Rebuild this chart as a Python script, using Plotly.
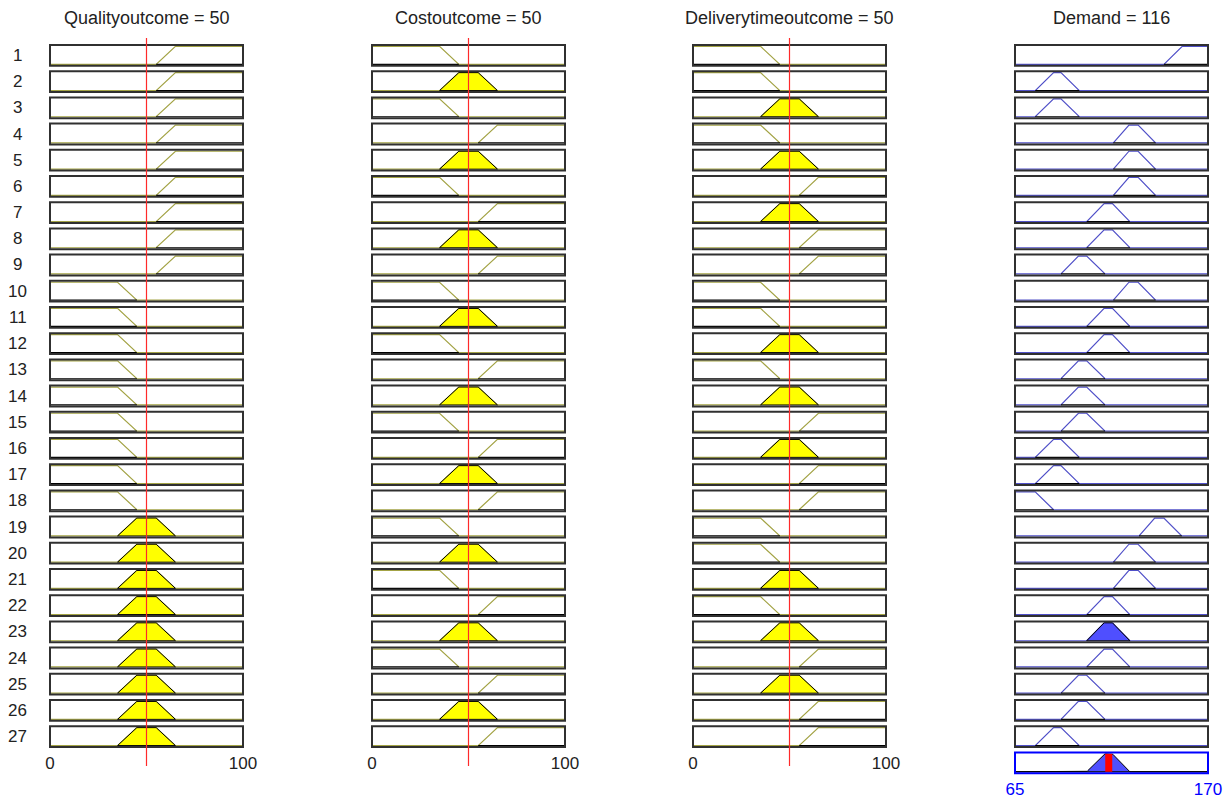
import numpy as np
import plotly.graph_objects as go

# ---------------- data ----------------
input_names = ["Qualityoutcome", "Costoutcome", "Deliverytimeoutcome"]
input_values = [50, 50, 50]
input_range = [0, 100]
input_ticks = [0, 100]

output_name = "Demand"
output_value = 116
output_range = [65, 170]
output_ticks = [65, 170]

# trapezoid membership functions (a, b, c, d)
input_mf_low = [0, 0, 35, 45]
input_mf_medium = [35, 45, 55, 65]
input_mf_high = [55, 65, 100, 100]

output_mfs = [
    [55, 65, 76, 86],
    [76, 86, 90, 100],
    [90, 99.5, 104, 114],
    [104, 113.5, 118, 127.5],
    [118.5, 127, 132, 141.5],
    [132.5, 141, 146, 155.7],
    [146, 156, 170, 180],
]

rule_quality = ["H", "H", "H", "H", "H", "H", "H", "H", "H",
                "L", "L", "L", "L", "L", "L", "L", "L", "L",
                "M", "M", "M", "M", "M", "M", "M", "M", "M"]
rule_cost = ["L", "M", "L", "H", "M", "L", "H", "M", "H",
             "L", "M", "L", "H", "M", "L", "H", "M", "H",
             "L", "M", "L", "H", "M", "L", "H", "M", "H"]
rule_delivery = ["L", "L", "M", "L", "M", "H", "M", "H", "H",
                 "L", "L", "M", "L", "M", "H", "M", "H", "H",
                 "L", "L", "M", "L", "M", "H", "M", "H", "H"]
rule_demand = [7, 2, 2, 5, 5, 5, 4, 4, 3,
               5, 4, 4, 3, 3, 3, 2, 2, 1,
               6, 5, 5, 4, 4, 4, 3, 3, 2]

# ---------------- styling / geometry ----------------
W, H = 1229, 800
FONT = "Liberation Sans, Arial, Helvetica, sans-serif"
col_px = [(50, 243), (372, 565), (693, 886), (1015, 1208)]
row_top0, row_step, box_h = 45.0, 26.2, 20.8
n_rules = len(rule_demand)
YPAD = 0.08  # membership axis padding so the mf lines sit just inside the frame

IN_LINE = "#a3a345"
OUT_LINE = "#5050c8"
YELLOW = "#ffff00"
BLUE_FILL = "#4f4fff"
FRAME = "#303030"

mf_lookup = {"L": input_mf_low, "M": input_mf_medium, "H": input_mf_high}


def trap(x, p):
    a, b, c, d = p
    x = np.asarray(x, dtype=float)
    left = (x - a) / (b - a) if b > a else (x >= a).astype(float)
    right = (d - x) / (d - c) if d > c else (x <= d).astype(float)
    return np.clip(np.minimum(np.minimum(left, right), 1.0), 0.0, 1.0)


def row_domain(r):
    top = row_top0 + r * row_step
    bot = top + box_h
    return [1 - bot / H, 1 - top / H]


def xname(c):
    return "x" if c == 0 else f"x{c + 1}"


def yname(r):
    return "y" if r == 0 else f"y{r + 1}"


fig = go.Figure()


def add_mf(c, r, p, degree, line_color, fill_color, xr):
    a, b, cc, d = p
    # full membership function outline across the whole universe
    fig.add_trace(go.Scatter(
        x=[min(xr[0], a), a, b, cc, d, max(xr[1], d)], y=[0, 0, 1, 1, 0, 0], mode="lines",
        line=dict(color=line_color, width=1.2),
        xaxis=xname(c), yaxis=yname(r), hoverinfo="skip", showlegend=False))
    if degree > 0:
        px = [a, a + (b - a) * degree, d - (d - cc) * degree, d, a]
        py = [0, degree, degree, 0, 0]
        fig.add_trace(go.Scatter(
            x=px, y=py, mode="lines", fill="toself",
            fillcolor=fill_color, line=dict(color="#000000", width=1),
            xaxis=xname(c), yaxis=yname(r), hoverinfo="skip", showlegend=False))
    else:
        fig.add_trace(go.Scatter(
            x=[a, d], y=[0, 0], mode="lines",
            line=dict(color="#000000", width=1.2),
            xaxis=xname(c), yaxis=yname(r), hoverinfo="skip", showlegend=False))


rule_inputs = [rule_quality, rule_cost, rule_delivery]
degrees = []
for r in range(n_rules):
    mus = [float(trap([input_values[i]], mf_lookup[rule_inputs[i][r]])[0]) for i in range(3)]
    degrees.append(min(mus))


def frame(c, r, color):
    return dict(type="rect", xref=f"{xname(c)} domain", yref=f"{yname(r)} domain",
                x0=0, x1=1, y0=0, y1=1, line=dict(color=color, width=2), layer="above")


shapes = []
# input columns
for i in range(3):
    for r in range(n_rules):
        p = mf_lookup[rule_inputs[i][r]]
        mu = float(trap([input_values[i]], p)[0])
        add_mf(i, r, p, mu, IN_LINE, YELLOW, input_range)
        shapes.append(frame(i, r, FRAME))
    shapes.append(dict(type="line", xref=xname(i), yref="paper",
                       x0=input_values[i], x1=input_values[i],
                       y0=1 - 766 / H, y1=1 - 38 / H,
                       line=dict(color="#ff2a2a", width=1.2), layer="above"))

# output column
for r in range(n_rules):
    p = output_mfs[rule_demand[r] - 1]
    add_mf(3, r, p, degrees[r], OUT_LINE, BLUE_FILL, output_range)
    shapes.append(frame(3, r, FRAME))

# aggregated output
agg_row = n_rules
bp = sorted(set([v for r in range(n_rules) if degrees[r] > 0
                 for v in output_mfs[rule_demand[r] - 1]] + output_range))
ax = []
for k in range(len(bp) - 1):
    ax.extend(np.linspace(bp[k], bp[k + 1], 40).tolist())
ax = np.array(ax)
agg = np.zeros_like(ax)
for r in range(n_rules):
    if degrees[r] > 0:
        agg = np.maximum(agg, np.minimum(trap(ax, output_mfs[rule_demand[r] - 1]), degrees[r]))
fig.add_trace(go.Scatter(
    x=[output_range[0], output_range[1]], y=[0, 0], mode="lines",
    line=dict(color="#555555", width=1.2),
    xaxis=xname(3), yaxis=yname(agg_row), hoverinfo="skip", showlegend=False))
fig.add_trace(go.Scatter(
    x=ax.tolist() + [ax[-1], ax[0]], y=agg.tolist() + [0, 0], mode="lines", fill="toself",
    fillcolor=BLUE_FILL, line=dict(color="#000000", width=1),
    xaxis=xname(3), yaxis=yname(agg_row), hoverinfo="skip", showlegend=False))
fig.add_trace(go.Scatter(
    x=[output_value, output_value], y=[0, 1], mode="lines",
    line=dict(color="#ff0000", width=7),
    xaxis=xname(3), yaxis=yname(agg_row), hoverinfo="skip", showlegend=False))
shapes.append(frame(3, agg_row, "#0000ff"))

# ---------------- axes ----------------
layout = {}
for c in range(4):
    x0, x1 = col_px[c]
    last_row = n_rules - 1 if c < 3 else agg_row
    bottom_px = row_top0 + last_row * row_step + box_h
    key = "xaxis" if c == 0 else f"xaxis{c + 1}"
    layout[key] = dict(
        domain=[x0 / W, x1 / W],
        range=output_range if c == 3 else input_range,
        tickvals=output_ticks if c == 3 else input_ticks,
        ticktext=[str(t) for t in (output_ticks if c == 3 else input_ticks)],
        tickfont=dict(family=FONT, size=17, color="#0000ff" if c == 3 else "#222222"),
        anchor="free", position=1 - bottom_px / H, side="bottom",
        showgrid=False, zeroline=False, showline=False, ticks="",
        ticklabelstandoff=4, automargin=False, fixedrange=True)
for r in range(n_rules + 1):
    key = "yaxis" if r == 0 else f"yaxis{r + 1}"
    layout[key] = dict(domain=row_domain(r), range=[-YPAD, 1 + YPAD], visible=False,
                       anchor="free", position=0, automargin=False, fixedrange=True)

annotations = []
titles = [f"{n} = {v}" for n, v in zip(input_names, input_values)] + [f"{output_name} = {output_value}"]
for c, t in enumerate(titles):
    x0, x1 = col_px[c]
    annotations.append(dict(text=t, x=(x0 + x1) / 2 / W, y=1 - 18 / H, xref="paper", yref="paper",
                            xanchor="center", yanchor="middle", showarrow=False,
                            font=dict(family=FONT, size=18, color="#222222")))
for r in range(n_rules):
    d = row_domain(r)
    annotations.append(dict(text=str(r + 1), x=17.5 / W, y=(d[0] + d[1]) / 2, xref="paper", yref="paper",
                            xanchor="center", yanchor="middle", showarrow=False,
                            font=dict(family=FONT, size=17, color="#222222")))

fig.update_layout(
    template="none",
    width=W, height=H, margin=dict(l=0, r=0, t=0, b=0, pad=0), autosize=False,
    paper_bgcolor="white", plot_bgcolor="white",
    shapes=shapes, annotations=annotations, showlegend=False,
    **layout)

fig.write_html("out.html", config={"displayModeBar": False},
               post_script="document.body.style.margin='0';document.body.style.padding='0';")
